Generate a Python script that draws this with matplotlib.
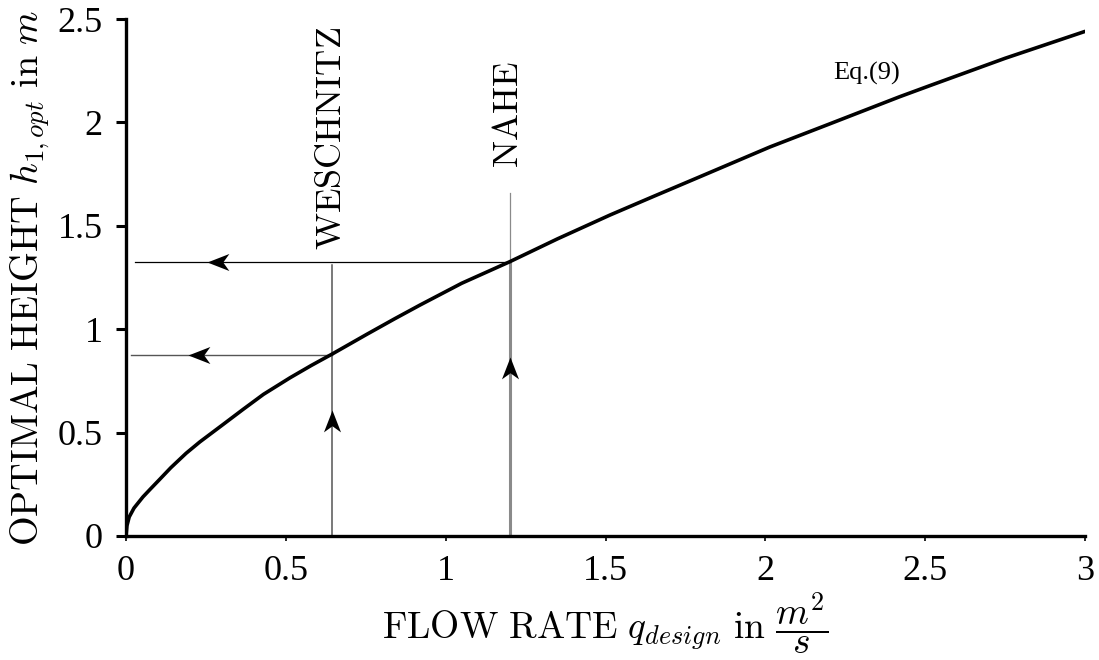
import numpy as np
import matplotlib
matplotlib.use("Agg")
import matplotlib.pyplot as plt
from matplotlib.path import Path

plt.rcParams['font.family'] = ['Liberation Serif', 'DejaVu Serif']
plt.rcParams['mathtext.fontset'] = 'cm'

# ---- data ----
q_curve = [0.0, 0.003, 0.01, 0.025, 0.053, 0.075, 0.103, 0.14, 0.188, 0.231,
           0.3, 0.366, 0.43, 0.513, 0.58, 0.645, 0.753, 0.84, 0.92, 1.05,
           1.2, 1.35, 1.514, 1.65, 1.795, 2.014, 2.2, 2.42, 2.515, 2.75, 3.0]
h_curve = [0.0, 0.05, 0.092, 0.135, 0.189, 0.225, 0.27, 0.33, 0.40, 0.455,
           0.535, 0.612, 0.685, 0.765, 0.825, 0.88, 0.975, 1.05, 1.117, 1.222,
           1.326, 1.437, 1.552, 1.642, 1.737, 1.881, 1.992, 2.124, 2.178, 2.31, 2.44]

rivers = ["WESCHNITZ", "NAHE"]
q_design = [0.645, 1.2]
h_opt = [0.875, 1.325]

x_ticks = [0, 0.5, 1, 1.5, 2, 2.5, 3]
x_ticklabels = ["0", "0.5", "1", "1.5", "2", "2.5", "3"]
y_ticks = [0, 0.5, 1, 1.5, 2, 2.5]
y_ticklabels = ["0", "0.5", "1", "1.5", "2", "2.5"]

# ---- figure ----
fig = plt.figure(figsize=(10.99, 6.6), dpi=100)
ax = fig.add_axes([126 / 1099, 1 - 536 / 660, (1085 - 126) / 1099, (536 - 19) / 660])
ax.set_xlim(0, 3)
ax.set_ylim(0, 2.5)

# arrow head markers (tip at origin)
left_head = Path([(0, 0), (1, 0.39), (0.72, 0), (1, -0.39), (0, 0)],
                 [Path.MOVETO, Path.LINETO, Path.LINETO, Path.LINETO, Path.CLOSEPOLY])
up_head = Path([(0, 0), (0.39, -1), (0, -0.72), (-0.39, -1), (0, 0)],
               [Path.MOVETO, Path.LINETO, Path.LINETO, Path.LINETO, Path.CLOSEPOLY])
head_ms = 31.5

# WESCHNITZ guide lines
qw, hw = q_design[0], h_opt[0]
ax.plot([qw, qw], [0, 1.31], color='#555555', lw=1.1, zorder=2)
ax.plot([0.015, qw], [hw, hw], color='#555555', lw=1.0, zorder=2)
ax.plot([qw], [0.61], marker=up_head, ms=head_ms, color='black', mew=0, zorder=4)
ax.plot([0.195], [hw], marker=left_head, ms=head_ms, color='black', mew=0, zorder=4)

# NAHE guide lines
qn, hn = q_design[1], h_opt[1]
ax.plot([qn, qn], [0, hn], color='#8a8a8a', lw=2.2, zorder=2)
ax.plot([qn, qn], [hn, 1.66], color='#8a8a8a', lw=0.9, zorder=2)
ax.plot([0.028, qn], [hn, hn], color='black', lw=0.9, zorder=2)
ax.plot([qn], [0.867], marker=up_head, ms=head_ms, color='black', mew=0, zorder=4)
ax.plot([0.252], [hn], marker=left_head, ms=head_ms, color='black', mew=0, zorder=4)

# main curve
ax.plot(q_curve, h_curve, color='black', lw=2.6, solid_joinstyle='round',
        solid_capstyle='round', zorder=3)

# labels for rivers
ax.text(qw, 1.383, r"$\mathrm{" + rivers[0] + "}$", rotation=90, ha='center',
        va='bottom', fontsize=26)
ax.text(qn, 1.78, r"$\mathrm{" + rivers[1] + "}$", rotation=90, ha='center',
        va='bottom', fontsize=26)
ax.text(2.211, 2.205, "Eq.(9)", ha='left', va='baseline', fontsize=19)

# axes styling
for s in ['top', 'right']:
    ax.spines[s].set_visible(False)
for s in ['left', 'bottom']:
    ax.spines[s].set_linewidth(2.4)
ax.set_xticks(x_ticks)
ax.set_xticklabels(x_ticklabels)
ax.set_yticks(y_ticks)
ax.set_yticklabels(y_ticklabels)
ax.tick_params(axis='y', direction='out', length=7, width=2.2, labelsize=26, pad=10)
ax.tick_params(axis='x', direction='out', length=3.5, width=1.2, labelsize=26, pad=10)

ax.set_xlabel(r"$\mathrm{FLOW\ RATE}\ q_{design}\ \mathrm{in}\ \dfrac{m^2}{s}$",
              fontsize=27, labelpad=2)
ax.set_ylabel(r"$\mathrm{OPTIMAL\ HEIGHT}\ h_{1,opt}\ \mathrm{in}\ m$",
              fontsize=27.5, labelpad=4)

fig.savefig("out.png", dpi=100)
